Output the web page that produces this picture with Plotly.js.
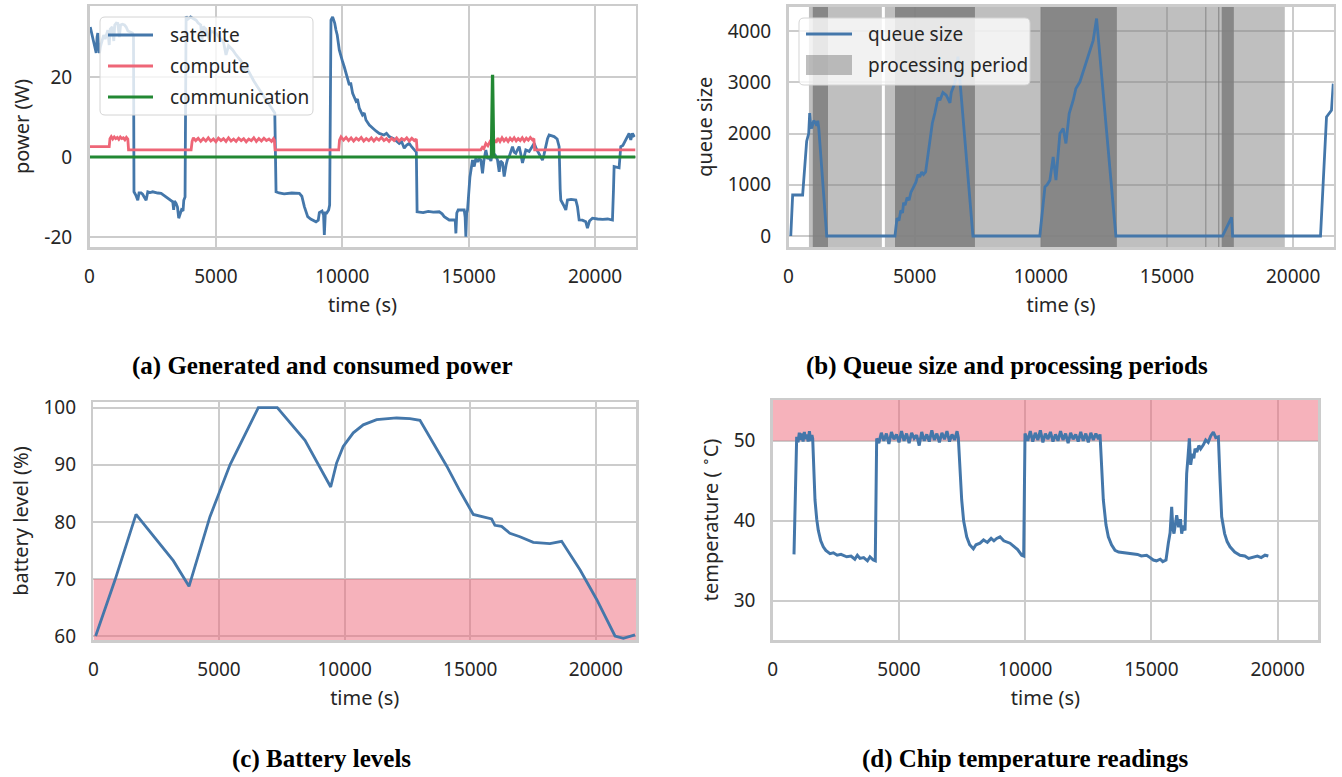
<!DOCTYPE html>
<html><head><meta charset="utf-8">
<script src="https://cdn.plot.ly/plotly-3.0.1.min.js"></script>
<style>html,body{margin:0;padding:0;background:#fff}#chart{width:1342px;height:777px}</style>
</head><body><div id="chart"></div>
<script>
// ---------- (a) power ----------
const satTime = [30,90,130,180,230,265,300,330,360,395,430,500,560,620,680,725,780,820,900,960,1000,1060,1120,1180,1230,1300,1384,1450,1520,1600,1700,1740,
  1760,1830,1910,1960,2043,2100,2180,2240,2306,2400,2500,2600,2700,2833,2950,3030,3150,3294,3330,3360,3426,3480,3530,3580,3640,3700,3730,3780,
  3822,3900,4000,4100,4217,4300,4400,4450,4500,4600,4743,4800,5007,5150,5300,5400,5500,5665,5800,6000,6100,6200,6324,6500,6650,6800,6983,7100,7247,7330,
  7380,7500,7700,8000,8302,8400,8500,8632,8750,8961,9050,9093,9200,9260,9290,9330,9382,9461,9500,
  9530,9553,9618,9700,9750,9800,9882,9950,10014,10080,10146,10280,10330,10410,10540,10600,10673,10800,10870,10937,11070,11200,11330,11463,11650,11750,11858,12050,12254,12350,12451,12550,12649,12750,12847,12930,
  12960,13200,13400,13600,13835,13950,14033,14231,14428,14470,14494,14530,14585,14700,14823,14860,14889,14920,14955,15050,
  15152,15220,15284,15350,15420,15482,15548,15600,15680,15750,15811,15880,15943,16050,16141,16207,16260,16339,16405,16480,16540,16602,16660,16734,16800,16866,16930,16998,17060,17129,17200,17261,17393,17480,17590,17680,17788,17920,17980,18052,18120,18183,18280,18381,18500,18579,
  18620,18645,18750,18843,18909,19050,19238,19304,19370,19500,19633,19699,19780,19897,20100,20300,20500,20688,
  20730,20754,20951,21017,21100,21215,21347,21413,21479,21560];
const satPower = [32.5,31,30,28,27,26,30,31,28,26,27.5,29,30.5,29.5,31,31.7,28,32,32.5,29,33,33.5,33.4,30,33,33.2,33,32.5,31.5,31.3,31,30.5,
  -8.7,-9.5,-10.8,-9,-9,-9.3,-10.2,-10.8,-8.7,-8.9,-8.7,-8.9,-9,-9.1,-9.6,-9.9,-10.5,-11.2,-13.2,-11,-11.6,-12.5,-15.3,-14.5,-13.2,-13.5,-10.8,-10,
  35.1,34.5,35,34.6,34.2,33.5,33,29,32.6,32,29.3,31.5,30.9,29.8,28.8,25.5,27.8,26.75,25.5,24,21.5,22.5,20.9,19,17.5,16,14.25,13,11.75,11,
  -8.7,-9,-9.2,-9,-9.1,-9.8,-12.4,-14.9,-15.5,-16.2,-15.8,-13.9,-13.5,-14.5,-19.5,-14,-14,-13.25,-12,
  30,34.25,35,33.5,31.75,30.5,26.75,25.5,23.8,22.5,20.9,18,18.6,15.9,14,14.5,12.2,10.5,11,9.25,8,7.2,6.5,5.9,5.5,5.9,5.1,4.5,3.4,3.8,2.2,3,3.4,2.5,1.75,1.2,
  -13.7,-13.9,-13.6,-13.8,-13.7,-14.2,-14.9,-15.75,-15.75,-16,-19.1,-14,-13.25,-13.3,-13.25,-15,-19.9,-14,-13.25,-5,
  -0.75,-2.4,-0.3,-1.2,-0.5,-0.75,-4.1,-1,1.75,-0.5,0.1,-1,1.1,0.5,-0.75,-3.7,-1,-1.5,-4.9,-2,-0.5,0.1,1.5,2.6,1.2,0.9,1.8,2.6,0.8,-1.5,0.2,1.75,1.4,2.2,3.4,2,0.9,-0.75,0.6,2.6,4.6,5.5,5.3,5.1,4.5,2.6,
  -8,-10.75,-12,-13.25,-10.75,-10.6,-10.75,-12.4,-15.75,-15.8,-16.2,-17.8,-16,-15.3,-15.5,-15.6,-15.5,-15.75,
  -8,-2.4,-2.7,2.6,2.9,4.25,5.9,4.25,5.9,5];

const computeTime = [0,780,810,860,920,980,1040,1100,1160,1220,1280,1340,1400,1460,1515,1545,4020,4060,4110,
  4200,4300,4400,4500,4600,4700,4800,4900,5000,5100,5200,5300,5400,5500,5600,5700,5800,5900,6000,6100,6200,6300,6400,6500,6600,6700,6800,6900,7000,7100,7200,7280,7313,7340,
  9860,9890,9950,10050,10150,10250,10350,10450,10550,10650,10750,10850,10950,11050,11150,11250,11350,11450,11550,11650,11750,11850,11950,12050,12150,12250,12350,12450,12550,12650,12750,12850,12930,12960,
  15480,15540,15600,15680,15760,15840,15920,16000,16080,16160,16240,16320,16400,16480,16560,16640,16720,16800,16880,16960,17040,17120,17200,17280,17360,17440,17520,17580,17610,21600];
const computePower = [2.6,2.6,4.6,5.1,4.5,5.0,4.6,4.9,4.4,5.0,4.6,4.8,4.3,4.9,4.5,1.8,1.8,3.9,4.8,
  4.1,4.7,3.9,4.6,4.0,4.8,4.0,4.5,3.8,4.7,4.1,4.6,3.9,4.8,4.0,4.5,3.9,4.7,4.1,4.6,3.8,4.5,4.1,4.8,3.9,4.6,4.0,4.7,4.1,4.5,3.9,4.6,4.2,1.8,
  1.8,4.2,5.0,4.2,4.9,4.1,4.8,4.0,4.7,4.2,4.9,4.0,4.6,4.1,4.8,4.0,4.7,4.2,4.9,4.1,4.6,3.9,4.7,4.1,4.8,4.0,4.6,4.2,4.8,4.0,4.7,4.1,4.5,1.8,
  1.8,2.4,2.1,3.4,2.8,3.8,3.2,4.4,3.6,4.7,3.9,4.8,4.0,4.6,3.9,4.7,4.1,4.8,4.0,4.6,4.1,4.8,4.0,4.7,4.2,4.9,4.3,4.6,1.8,1.8];

const commTime = [0,15890,15935,15955,16000,21600];
const commPower = [0,0,20.2,20.2,0,0];

const powerTickVals = [-20,0,20];
const powerTickText = ['-20','0','20'];
const legendLabelsA = ['satellite','compute','communication'];

// ---------- (b) queue ----------
const queueTime = [90,165,560,720,800,840,880,920,1000,1080,1120,1160,1200,1515,4220,4260,4300,4380,4450,4520,4560,4620,4700,4780,4850,4950,5050,5130,5200,5280,5350,5435,5500,5600,5700,5800,5925,6000,6120,6250,6330,6400,6450,6520,6600,6715,7310,
  9960,10080,10163,10250,10360,10490,10600,10756,10887,10995,11125,11284,11390,11550,11747,11945,12076,12210,12975,17200,17560,17600,21085,21323,21520,21590];
const queueSize = [0,800,800,1850,2000,2400,2150,2100,2250,2200,2150,2250,2100,0,0,150,350,300,500,450,650,600,750,700,850,950,1050,1200,1150,1250,1200,1250,1500,1850,2200,2400,2700,2650,2800,2750,2650,2600,2800,2900,3000,3500,0,
  0,500,960,1000,1090,1545,1090,2000,2100,1806,2390,2650,2880,3010,3300,3625,3820,4245,0,0,365,0,0,2325,2455,2975];
const periodStart = [810,3820];
const periodEnd = [3700,19670];
const burstStart = [963,4220,10004,16520,17030,17170];
const burstEnd = [1565,7390,13015,16560,17075,17650];
const legendLabelsB = ['queue size','processing period'];

// ---------- (c) battery ----------
const batteryTime = [90,860,1696,2652,3180,3806,4640,5438,6565,7320,8424,9447,9680,9945,10345,10743,11275,12070,12600,13000,14062,14592,15122,15852,15984,16250,16580,16980,17510,18173,18640,19370,20035,20764,21095,21560];
const batteryLevel = [60,69.8,81.3,76.2,73.2,68.7,80.9,90,100,100,94.3,86.1,90.3,93.2,95.6,97.0,97.9,98.2,98.1,97.8,89.8,85.4,81.3,80.5,79.4,79.2,78.0,77.4,76.4,76.2,76.6,71.6,66.4,60.0,59.6,60.2];
const batteryLowLimit = 70;

// ---------- (d) temperature ----------
const tempTime = [840,946,1000,1050,1100,1150,1200,1250,1300,1350,1400,1450,1500,1550,1580,
  1620,1672,1740,1803,1900,2000,2100,2266,2400,2550,2700,2927,3100,3250,3350,3455,3600,3750,3850,3982,4060,
  4115,4200,4300,4400,4500,4600,4700,4800,4900,5000,5100,5200,5300,5400,5500,5600,5700,5800,5900,6000,6100,6200,6300,6400,6500,6600,6700,6800,6900,7000,7100,7200,7300,7350,
  7420,7484,7560,7682,7800,7946,8050,8210,8350,8500,8650,8760,8871,9002,9150,9250,9398,9550,9700,9861,9940,
  9992,10100,10200,10300,10400,10500,10600,10700,10800,10900,11000,11100,11200,11300,11400,11500,11600,11700,11800,11900,12000,12100,12200,12300,12400,12500,12600,12700,12800,12900,12964,
  13030,13095,13200,13293,13420,13558,13700,13900,14100,14283,14450,14600,14811,14950,15075,15200,15350,15450,15578,
  15670,15740,15803,15850,15895,15950,16001,16080,16150,16199,16260,16331,16397,16450,16503,16556,16620,16680,16728,16800,16880,16950,17058,17150,17250,17350,17454,17550,17652,
  17720,17784,17900,18000,18114,18300,18510,18700,18850,19038,19200,19350,19500,19633];
const tempValue = [35.8,50.5,49.8,51.0,50.1,50.9,49.9,51.1,50.2,50.8,49.9,51.2,50.0,50.7,50.3,
  47,42.6,40.2,38.8,37.5,36.75,36.3,35.9,36.0,35.7,35.8,35.5,35.6,35.2,35.7,35.3,35.4,35.0,35.5,35.1,35.0,
  50.3,49.7,51.0,50.0,50.9,49.6,51.1,50.2,50.8,49.8,51.2,50.0,50.9,49.7,51.0,50.3,50.7,49.4,51.1,50.0,50.8,49.9,51.3,50.1,50.9,49.8,51.0,50.2,51.2,49.9,50.8,50.1,51.2,50.4,
  46,42.6,40,38,37,36.5,37.0,37.2,37.6,37.3,37.8,37.5,37.8,38.0,37.5,37.4,37.2,36.8,36.4,35.7,35.6,
  50.9,50.0,51.2,49.9,51.0,50.1,51.3,49.8,50.9,50.2,51.1,49.9,50.8,50.0,51.2,50.1,50.9,49.7,51.0,50.2,50.8,49.9,51.1,50.0,50.9,49.8,51.0,50.1,50.9,50.2,50.8,
  46.5,42.6,39.5,38,37,36.3,36.1,36.0,35.9,35.9,35.8,35.6,35.7,35.4,35.1,35.0,35.2,34.9,35.1,
  37.2,38.5,41.75,39,38.4,39.5,40.7,39.2,40.2,38.4,39.4,38.8,45.9,48,50.3,47,48.4,47.8,49,48.6,49.4,49.0,49.5,50.1,49.8,50.6,51.1,50.4,50.5,
  45,40.5,38.4,37.4,36.75,36.1,35.7,35.6,35.3,35.5,35.6,35.4,35.7,35.6];
const tempHighLimit = 50;

const timeTickVals = [0,5000,10000,15000,20000];
const timeTickText = ['0','5000','10000','15000','20000'];

// ---------- styling ----------
const F = 'Noto Sans, Open Sans, sans-serif';
const TXT = '#262626';
const BLUE = '#4477aa', RED = '#ee6677', GREEN = '#228833';
const SPAN = 'rgba(128,128,128,0.5)', SPAN_DENSE = 'rgba(128,128,128,0.88)', LIMIT = 'rgba(238,102,119,0.5)';
const W = 1342, H = 777;
const px = v => v / W;
const py = v => 1 - v / H;
const T_RANGE = [0, 21600];
const R_A = [-22.5, 37.75], R_B = [-215, 4480], R_C = [59.3, 101], R_D = [25.1, 55.1];

function axis(extra) {
  return Object.assign({
    showgrid: true, gridcolor: '#cccccc', gridwidth: 2, zeroline: false,
    showline: true, linecolor: '#cccccc', linewidth: 2.5, mirror: true,
    ticks: '', ticklabelstandoff: 11,
    tickfont: {family: F, size: 19, color: TXT}
  }, extra);
}
function xTime(domain, anchor) {
  return axis({domain: domain, anchor: anchor, range: T_RANGE,
    tickmode: 'array', tickvals: timeTickVals, ticktext: timeTickText,
    title: {text: 'time (s)', font: {family: F, size: 20, color: TXT}, standoff: 10}});
}
function yTitle(t) { return {text: t, font: {family: F, size: 20, color: TXT}, standoff: 10}; }

function spanPoly(starts, ends, lo, hi) {
  const x = [], y = [];
  starts.forEach((s, i) => { x.push(s, s, ends[i], ends[i], s, null); y.push(lo, hi, hi, lo, lo, null); });
  return {x, y};
}
const lightP = spanPoly(periodStart, periodEnd, R_B[0], R_B[1]);
const darkP = spanPoly(burstStart, burstEnd, R_B[0], R_B[1]);
const bandC = spanPoly([T_RANGE[0]], [T_RANGE[1]], R_C[0], batteryLowLimit);
const bandD = spanPoly([T_RANGE[0]], [T_RANGE[1]], tempHighLimit, R_D[1]);

const fillBase = {type: 'scatter', mode: 'none', fill: 'toself', hoverinfo: 'skip', showlegend: false};
const lineBase = {type: 'scatter', mode: 'lines', showlegend: false};
const traces = [
  Object.assign({}, lineBase, {x: satTime, y: satPower, name: legendLabelsA[0], line: {color: BLUE, width: 2.8}, xaxis: 'x', yaxis: 'y'}),
  Object.assign({}, lineBase, {x: computeTime, y: computePower, name: legendLabelsA[1], line: {color: RED, width: 2.8}, xaxis: 'x', yaxis: 'y'}),
  Object.assign({}, lineBase, {x: commTime, y: commPower, name: legendLabelsA[2], line: {color: GREEN, width: 2.8}, xaxis: 'x', yaxis: 'y'}),
  Object.assign({}, fillBase, {x: lightP.x, y: lightP.y, fillcolor: SPAN, xaxis: 'x2', yaxis: 'y2', name: legendLabelsB[1]}),
  Object.assign({}, fillBase, {x: darkP.x, y: darkP.y, fillcolor: SPAN_DENSE, xaxis: 'x2', yaxis: 'y2'}),
  Object.assign({}, lineBase, {x: queueTime, y: queueSize, name: legendLabelsB[0], line: {color: BLUE, width: 2.8}, xaxis: 'x2', yaxis: 'y2'}),
  Object.assign({}, fillBase, {x: bandC.x, y: bandC.y, fillcolor: LIMIT, xaxis: 'x3', yaxis: 'y3'}),
  Object.assign({}, lineBase, {x: batteryTime, y: batteryLevel, line: {color: BLUE, width: 2.8}, xaxis: 'x3', yaxis: 'y3'}),
  Object.assign({}, fillBase, {x: bandD.x, y: bandD.y, fillcolor: LIMIT, xaxis: 'x4', yaxis: 'y4'}),
  Object.assign({}, lineBase, {x: tempTime, y: tempValue, line: {color: BLUE, width: 3}, xaxis: 'x4', yaxis: 'y4'})
];

// ---------- legends (drawn as paper shapes + text) ----------
function roundRect(x0, y0, x1, y1, r) {
  // pixel coords -> paper path
  const X = v => px(v).toFixed(5), Y = v => py(v).toFixed(5);
  return `M${X(x0 + r)},${Y(y0)} L${X(x1 - r)},${Y(y0)} Q${X(x1)},${Y(y0)} ${X(x1)},${Y(y0 + r)} ` +
    `L${X(x1)},${Y(y1 - r)} Q${X(x1)},${Y(y1)} ${X(x1 - r)},${Y(y1)} L${X(x0 + r)},${Y(y1)} ` +
    `Q${X(x0)},${Y(y1)} ${X(x0)},${Y(y1 - r)} L${X(x0)},${Y(y0 + r)} Q${X(x0)},${Y(y0)} ${X(x0 + r)},${Y(y0)} Z`;
}
const shapes = [];
const annotations = [];
const legFont = {family: F, size: 19, color: TXT};
function addLegend(box, items) {
  shapes.push({type: 'path', xref: 'paper', yref: 'paper', path: roundRect(box[0], box[1], box[2], box[3], 5),
    fillcolor: 'rgba(255,255,255,0.8)', line: {color: '#d4d4d4', width: 1}, layer: 'above'});
  items.forEach(it => {
    if (it.patch) {
      shapes.push({type: 'rect', xref: 'paper', yref: 'paper', x0: px(it.x0), x1: px(it.x1), y0: py(it.y + 10), y1: py(it.y - 10),
        fillcolor: it.color, line: {width: 0}, layer: 'above'});
    } else {
      shapes.push({type: 'line', xref: 'paper', yref: 'paper', x0: px(it.x0), x1: px(it.x1), y0: py(it.y), y1: py(it.y),
        line: {color: it.color, width: 2.8}, layer: 'above'});
    }
    annotations.push({xref: 'paper', yref: 'paper', x: px(it.tx), y: py(it.y), xanchor: 'left', yanchor: 'middle',
      text: it.label, showarrow: false, font: legFont});
  });
}
addLegend([100, 17, 313, 115], [
  {x0: 108, x1: 153, tx: 168, y: 35, color: BLUE, label: legendLabelsA[0]},
  {x0: 108, x1: 153, tx: 168, y: 66, color: RED, label: legendLabelsA[1]},
  {x0: 108, x1: 153, tx: 168, y: 97, color: GREEN, label: legendLabelsA[2]}
]);
addLegend([799, 18, 1030, 85], [
  {x0: 806, x1: 852, tx: 866, y: 34, color: BLUE, label: legendLabelsB[0]},
  {x0: 806, x1: 852, tx: 866, y: 65, color: SPAN, label: legendLabelsB[1], patch: true}
]);

const capFont = {family: 'Liberation Serif, serif', size: 25, color: '#000'};
[
  {text: '<b>(a) Generated and consumed power</b>', x: px(322), y: py(366)},
  {text: '<b>(b) Queue size and processing periods</b>', x: px(1007), y: py(366)},
  {text: '<b>(c) Battery levels</b>', x: px(321), y: py(759)},
  {text: '<b>(d) Chip temperature readings</b>', x: px(1025), y: py(759)}
].forEach(a => annotations.push(Object.assign({xref: 'paper', yref: 'paper', xanchor: 'center', yanchor: 'middle', showarrow: false, font: capFont}, a)));

const layout = {
  width: W, height: H, margin: {l: 0, r: 0, t: 0, b: 0},
  paper_bgcolor: '#fff', plot_bgcolor: '#fff',
  font: {family: F, color: TXT},
  showlegend: false,
  xaxis: xTime([px(89.5), px(635.5)], 'y'),
  yaxis: axis({domain: [py(247), py(6)], anchor: 'x', range: R_A, tickmode: 'array', tickvals: powerTickVals, ticktext: powerTickText, title: yTitle('power (W)')}),
  xaxis2: xTime([px(788.5), px(1333.5)], 'y2'),
  yaxis2: axis({domain: [py(247), py(6.5)], anchor: 'x2', range: R_B, tickmode: 'array', tickvals: [0,1000,2000,3000,4000], ticktext: ['0','1000','2000','3000','4000'], title: yTitle('queue size')}),
  xaxis3: xTime([px(93.4), px(636)], 'y3'),
  yaxis3: axis({domain: [py(640), py(402)], anchor: 'x3', range: R_C, tickmode: 'array', tickvals: [60,70,80,90,100], ticktext: ['60','70','80','90','100'], title: yTitle('battery level (%)')}),
  xaxis4: xTime([px(772.8), px(1318)], 'y4'),
  yaxis4: axis({domain: [py(640), py(400)], anchor: 'x4', range: R_D, tickmode: 'array', tickvals: [30,40,50], ticktext: ['30','40','50'], title: yTitle('temperature ( <sup>∘</sup>C)')}),
  shapes: shapes,
  annotations: annotations
};

Plotly.newPlot('chart', traces, layout, {staticPlot: true, displayModeBar: false});
</script></body></html>
